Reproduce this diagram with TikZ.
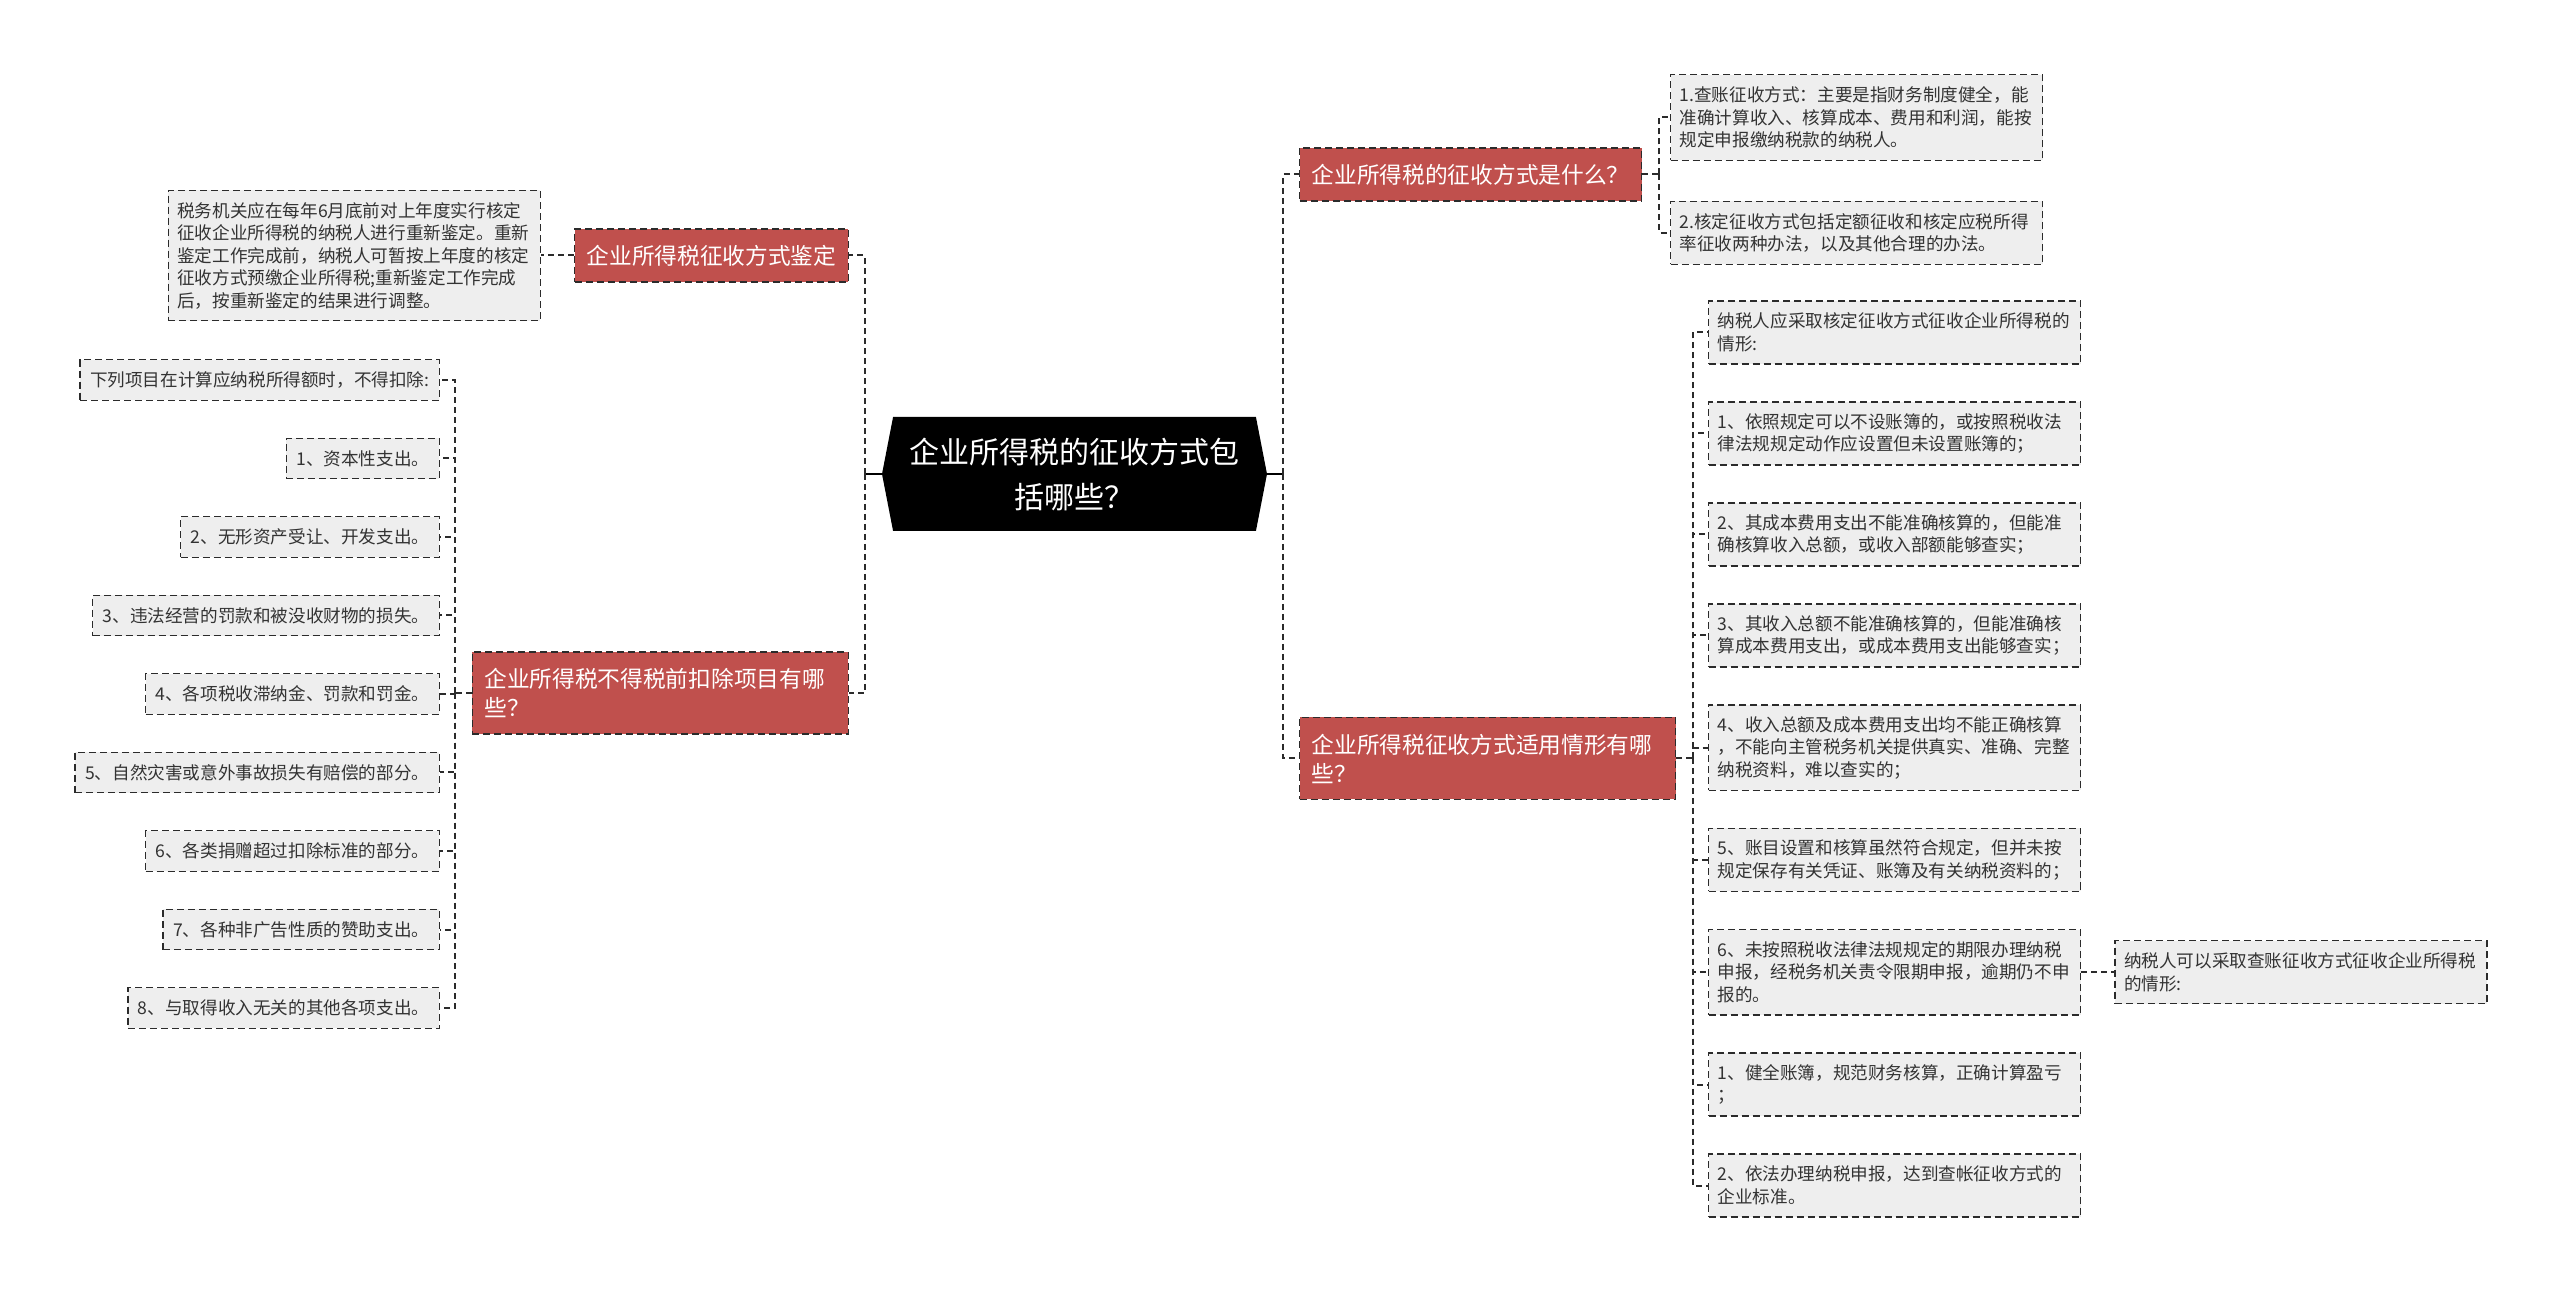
\documentclass[tikz,border=0pt]{standalone}
\usepackage{fontspec}
\usepackage{tikz}
\usetikzlibrary{positioning,shapes.symbols}
\newfontfamily\cjk{Noto Sans CJK SC}
\definecolor{topicred}{HTML}{C0504D}
\definecolor{leafgray}{HTML}{EEEEEE}
\definecolor{edge}{HTML}{2B2B2B}
\definecolor{leaftext}{HTML}{333333}

\begin{document}
\begin{tikzpicture}[
  x=0.5pt,y=-0.5pt,
  node distance=18.3pt,
  root/.style={signal,signal to=west and east,signal pointer angle=158,
               fill=black,text=white,text width=166pt,align=center,
               minimum width=192.5pt,minimum height=57pt,inner sep=0pt,
               font=\cjk\fontsize{15pt}{22.5pt}\selectfont},
  topic/.style={fill=topicred,draw=edge,line width=0.7pt,dash pattern=on 3.5pt off 2pt,
                text=white,inner xsep=6pt,inner ysep=0pt,align=left,
                font=\cjk\fontsize{11.35pt}{14.5pt}\selectfont},
  tlines/.style={minimum height={#1*14.5pt+12pt}},
  leaf/.style={fill=leafgray,draw=edge,line width=0.7pt,dash pattern=on 3.5pt off 2pt,
               text=leaftext,inner xsep=5pt,inner ysep=0pt,align=left,
               minimum height=20.25pt,font=\cjk\fontsize{8.8pt}{11.25pt}\selectfont},
  wide/.style={text width=177pt,inner xsep=4.5pt,minimum height={#1*11.25pt+9pt}},
  link/.style={draw=edge,line width=1pt,dash pattern=on 3pt off 2pt},
  stem/.style={draw=black,line width=1.2pt}
]
\fill[white] (0,0) rectangle (2560,1293);

\node[root] (root) at (1074.5,474) {企业所得税的征收方式包\\括哪些？};

% left side
\node[topic,tlines=1,anchor=east] (jd) at (849,255.5) {企业所得税征收方式鉴定};
\node[leaf,wide=5,left=16.5pt of jd] (jdtext)
  {税务机关应在每年6月底前对上年度实行核定\\征收企业所得税的纳税人进行重新鉴定。重新\\鉴定工作完成前，纳税人可暂按上年度的核定\\征收方式预缴企业所得税;重新鉴定工作完成\\后，按重新鉴定的结果进行调整。};
\node[topic,tlines=2,text width=176pt,anchor=east] (kc) at (849,693) {企业所得税不得税前扣除项目有哪\\些？};
\node[leaf,anchor=east] (kc0) at (440,380) {下列项目在计算应纳税所得额时，不得扣除:};
\node[leaf,below=of kc0.south east,anchor=north east] (kc1) {1、资本性支出。};
\node[leaf,below=of kc1.south east,anchor=north east] (kc2) {2、无形资产受让、开发支出。};
\node[leaf,below=of kc2.south east,anchor=north east] (kc3) {3、违法经营的罚款和被没收财物的损失。};
\node[leaf,below=of kc3.south east,anchor=north east] (kc4) {4、各项税收滞纳金、罚款和罚金。};
\node[leaf,below=of kc4.south east,anchor=north east] (kc5) {5、自然灾害或意外事故损失有赔偿的部分。};
\node[leaf,below=of kc5.south east,anchor=north east] (kc6) {6、各类捐赠超过扣除标准的部分。};
\node[leaf,below=of kc6.south east,anchor=north east] (kc7) {7、各种非广告性质的赞助支出。};
\node[leaf,below=of kc7.south east,anchor=north east] (kc8) {8、与取得收入无关的其他各项支出。};

% right side
\node[topic,tlines=1,anchor=west] (fs) at (1299,174.5) {企业所得税的征收方式是什么？};
\node[leaf,wide=3,anchor=west] (fs1) at (1670,117.5)
  {1.查账征收方式：主要是指财务制度健全，能\\准确计算收入、核算成本、费用和利润，能按\\规定申报缴纳税款的纳税人。};
\node[leaf,wide=2,below=19.8pt of fs1.south west,anchor=north west] (fs2)
  {2.核定征收方式包括定额征收和核定应税所得\\率征收两种办法，以及其他合理的办法。};
\node[topic,tlines=2,text width=176pt,anchor=west] (qx) at (1299,758.5) {企业所得税征收方式适用情形有哪\\些？};
\node[leaf,wide=2,anchor=west] (qx0) at (1708,332.5) {纳税人应采取核定征收方式征收企业所得税的\\情形:};
\node[leaf,wide=2,below=of qx0.south west,anchor=north west] (qx1)
  {1、依照规定可以不设账簿的，或按照税收法\\律法规规定动作应设置但未设置账簿的；};
\node[leaf,wide=2,below=of qx1.south west,anchor=north west] (qx2)
  {2、其成本费用支出不能准确核算的，但能准\\确核算收入总额，或收入部额能够查实；};
\node[leaf,wide=2,below=of qx2.south west,anchor=north west] (qx3)
  {3、其收入总额不能准确核算的，但能准确核\\算成本费用支出，或成本费用支出能够查实；};
\node[leaf,wide=3,below=of qx3.south west,anchor=north west] (qx4)
  {4、收入总额及成本费用支出均不能正确核算\\，不能向主管税务机关提供真实、准确、完整\\纳税资料，难以查实的；};
\node[leaf,wide=2,below=of qx4.south west,anchor=north west] (qx5)
  {5、账目设置和核算虽然符合规定，但并未按\\规定保存有关凭证、账簿及有关纳税资料的；};
\node[leaf,wide=3,below=of qx5.south west,anchor=north west] (qx6)
  {6、未按照税收法律法规规定的期限办理纳税\\申报，经税务机关责令限期申报，逾期仍不申\\报的。};
\node[leaf,wide=2,below=of qx6.south west,anchor=north west] (qx7)
  {1、健全账簿，规范财务核算，正确计算盈亏\\；};
\node[leaf,wide=2,below=of qx7.south west,anchor=north west] (qx8)
  {2、依法办理纳税申报，达到查帐征收方式的\\企业标准。};
\node[leaf,wide=2,right=16.5pt of qx6] (cz) {纳税人可以采取查账征收方式征收企业所得税\\的情形:};

% connectors
\draw[stem] (root.west) -- ++(-17,0) coordinate (lhub);
\draw[stem] (root.east) -- ++(16,0) coordinate (rhub);
\draw[link] (lhub) |- (jd.east);
\draw[link] (lhub) |- (kc.east);
\draw[link] (rhub) |- (fs.west);
\draw[link] (rhub) |- (qx.west);
\draw[link] (jd.west) -- (jdtext.east);
\draw[link] (kc.west) -- ++(-17,0) coordinate (kchub);
\foreach \i in {0,...,8} \draw[link] (kchub) |- (kc\i.east);
\draw[link] (fs.east) -- ++(17,0) coordinate (fshub);
\foreach \i in {1,2} \draw[link] (fshub) |- (fs\i.west);
\draw[link] (qx.east) -- ++(17,0) coordinate (qxhub);
\foreach \i in {0,...,8} \draw[link] (qxhub) |- (qx\i.west);
\draw[link] (qx6.east) -- (cz.west);
\end{tikzpicture}
\end{document}
